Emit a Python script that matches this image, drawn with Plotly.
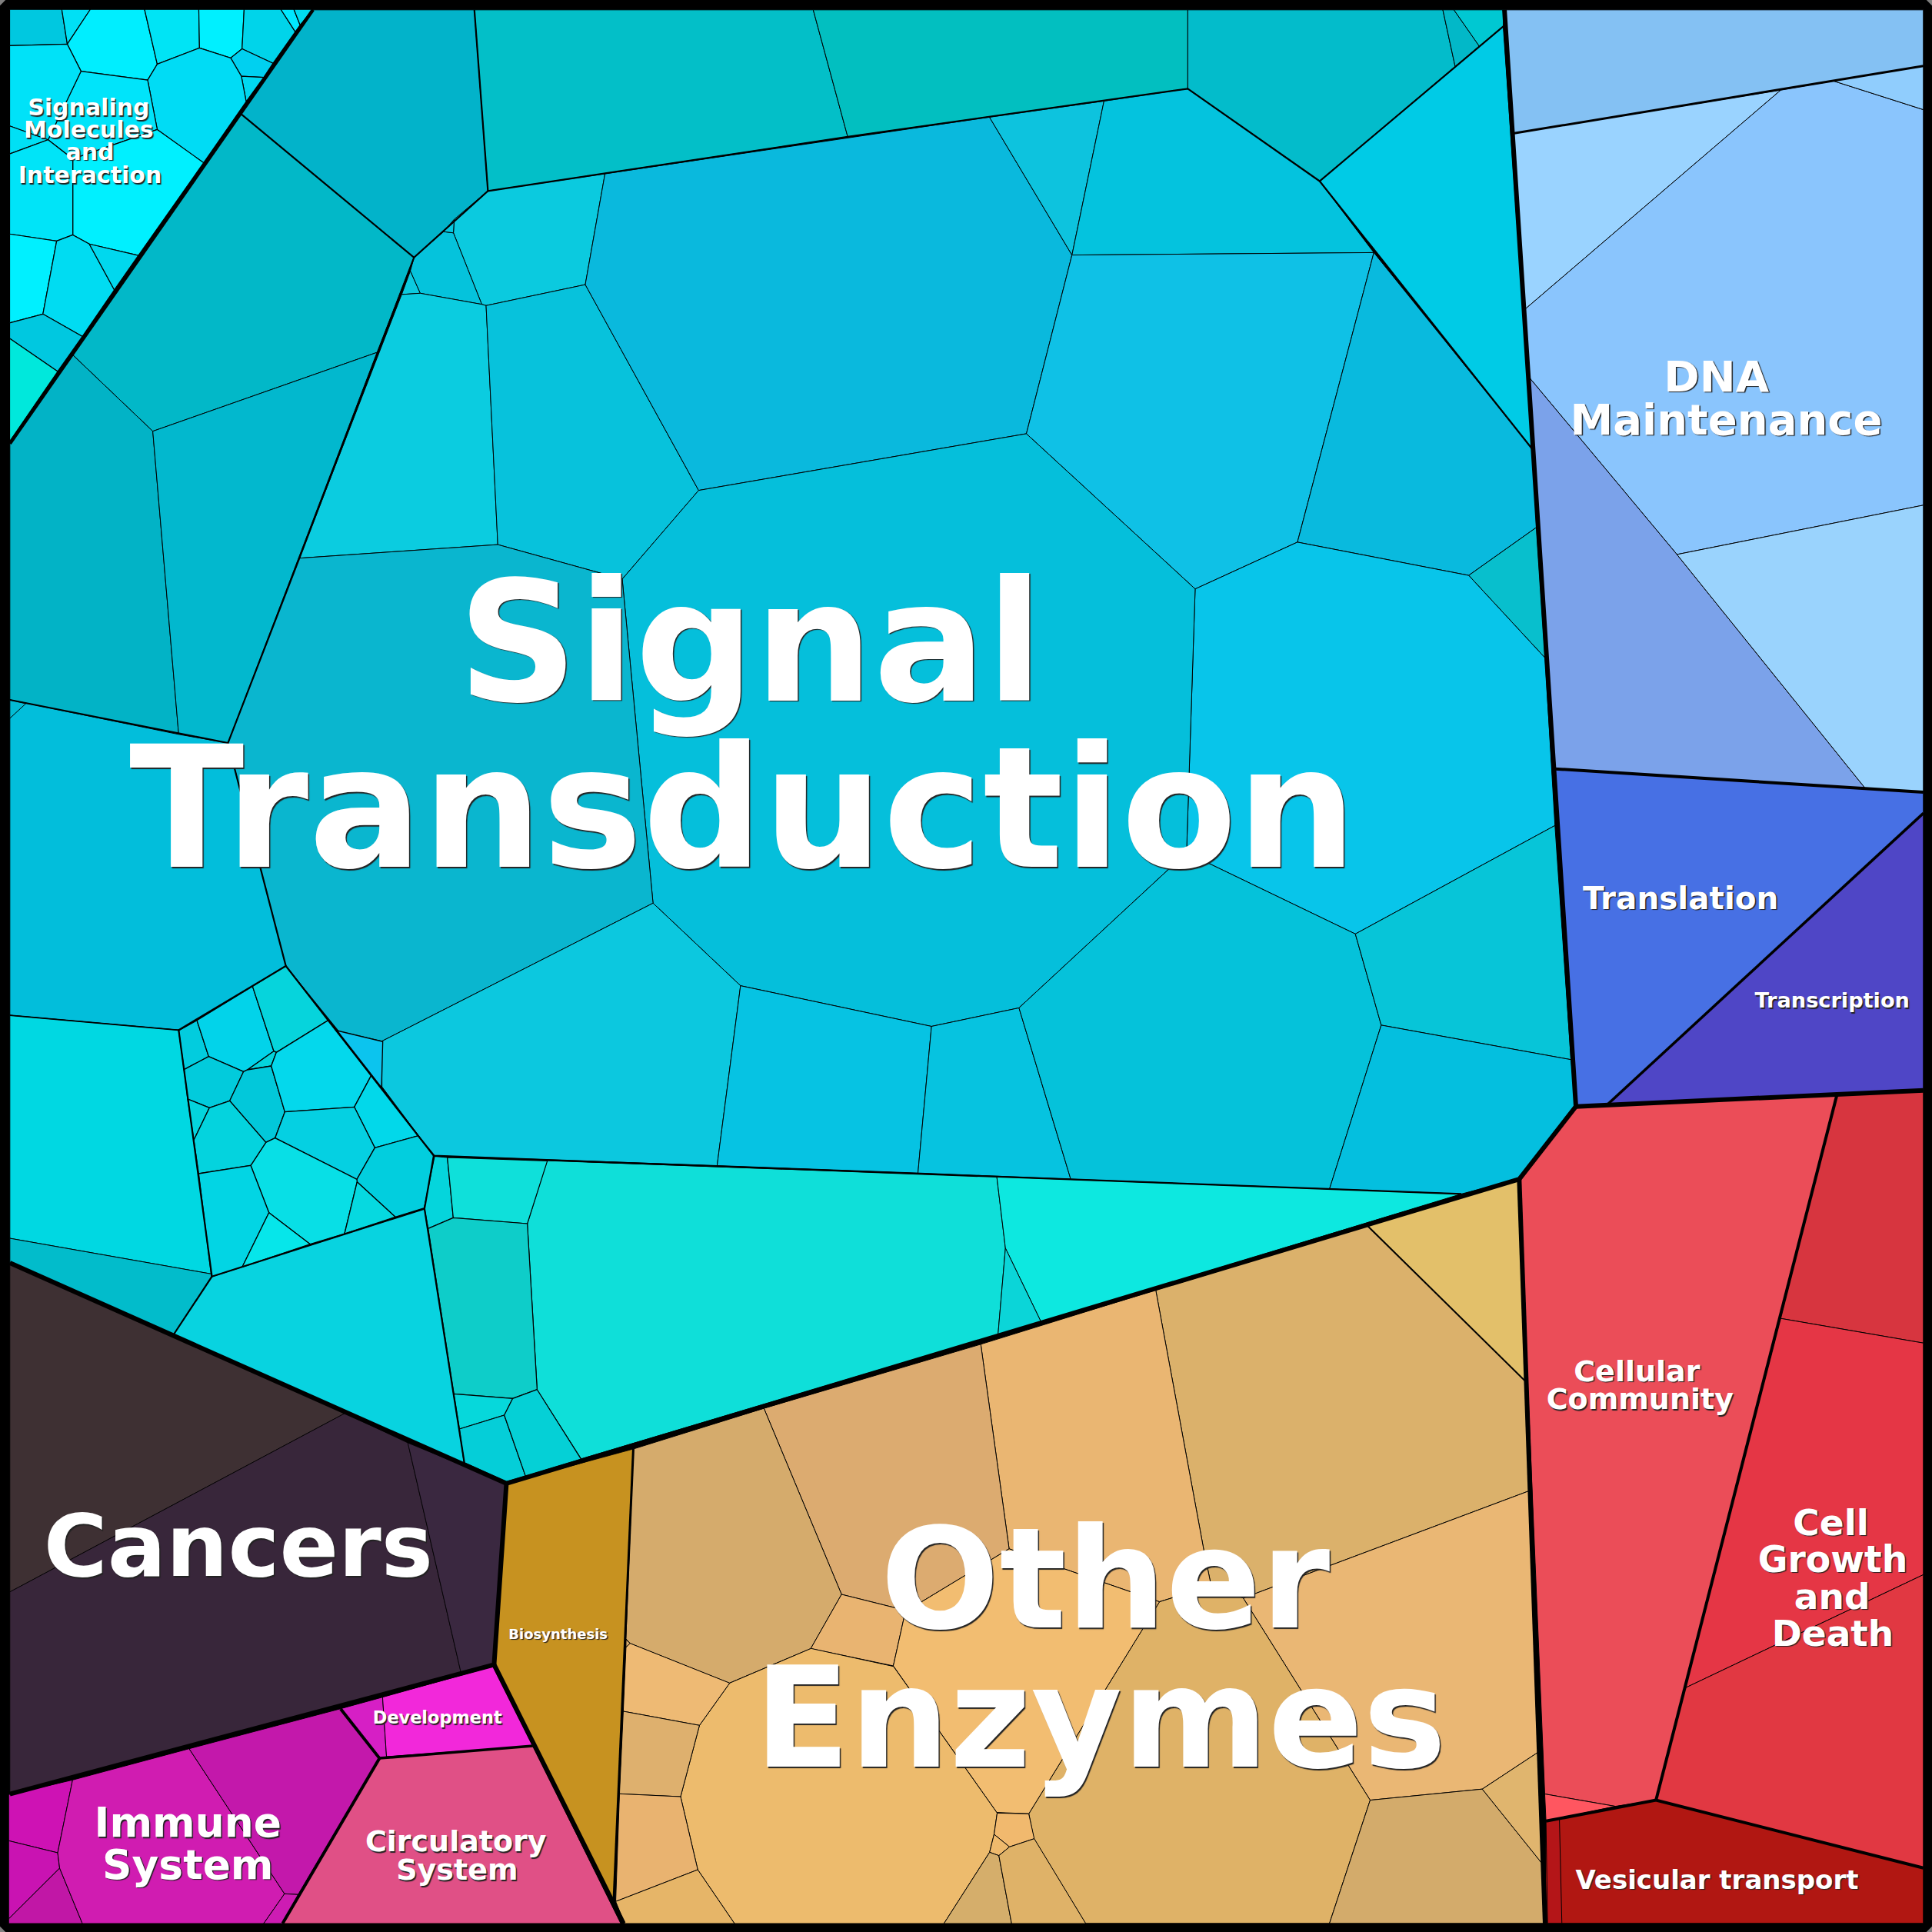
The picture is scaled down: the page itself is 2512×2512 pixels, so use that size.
import plotly.graph_objects as go

# Reading frames of the readings below: (x offset, y offset, x scale, y scale) into the 2512 px reference.
# None means the values are already in axis units (0..1568).
Z1 = (0, 0, 2.24, 2.613)
Z2 = (200, 1220, 3, 3)
Z3 = (520, 1480, 3, 3)
Z4 = (780, 2100, 2.24, 3)
Z5 = (0, 2100, 1.96, 3)

signaling_cells = [
    ("#00c8e0", [(28,32),(180,32),(196,150),(28,155)]),
    ("#00e0f5", [(180,32),(263,32),(196,150)]),
    ("#00eeff", [(263,32),(421,32),(458,218),(430,272),(236,242),(196,150)]),
    ("#00e4f5", [(421,32),(579,32),(581,163),(458,218)]),
    ("#00f0ff", [(579,32),(711,32),(705,166),(672,197),(581,163)]),
    ("#00d4ea", [(711,32),(818,32),(860,108),(795,215),(705,166)]),
    ("#00e8ff", [(818,32),(856,32),(874,85),(860,108)]),
    ("#00dcf0", [(856,32),(912,32),(874,85)]),
    ("#00d0f0", [(705,166),(795,215),(768,263),(703,259),(672,197)]),
    ("#00d8f0", [(703,259),(768,263),(717,345)]),
    ("#00dcf5", [(581,163),(672,197),(703,259),(717,345),(593,553),(458,440),(430,272),(458,218)]),
    ("#00e4fa", [(236,242),(430,272),(458,440),(212,540),(140,475)]),
    ("#00f0ff", [(458,440),(593,553),(403,868),(260,829),(212,798),(212,540)]),
    ("#00e2f8", [(28,155),(196,150),(236,242),(140,475),(28,428)]),
    ("#00e0f5", [(28,428),(140,475),(28,523)]),
    ("#00e4f8", [(28,523),(140,475),(212,540),(212,798),(165,819),(28,795)]),
    ("#00f0ff", [(28,795),(165,819),(125,1067),(28,1097)]),
    ("#00dcf2", [(165,819),(212,798),(260,829),(333,985),(240,1143),(125,1067)]),
    ("#00d8ee", [(260,829),(403,868),(333,985)]),
    ("#00c8e0", [(28,1097),(125,1067),(240,1143),(168,1262),(28,1150)]),
    ("#00e8dc", [(28,1150),(168,1262),(28,1500)]),
]

signal_cells = [
    ("#02b3ca", [(254,8),(385,8),(396,155),(336,209),(195,92)]),
    ("#02b8c8", [(195,92),(336,209),(306,286),(124,350),(59,288)]),
    ("#02b3c6", [(8,360),(59,288),(124,350),(145,596),(8,568)]),
    ("#02b8ce", [(124,350),(306,286),(185,603),(145,596)]),
    ("#03bfc8", [(385,8),(660,8),(688,111),(396,155)]),
    ("#02bfc0", [(660,8),(964,8),(964,72),(688,111)]),
    ("#03bccb", [(964,8),(1171,8),(1181,54),(1071,147),(964,72)]),
    ("#02b8c8", [(1171,8),(1180,8),(1200.6,37.5),(1181,54)]),
    ("#00c8d2", [(1180,8),(1221,8),(1220,21.5),(1200.6,37.5)]),
    ("#00cbe6", [(1220,21.5),(1244,365),(1071,147)]),
    ("#0bcadf", [(396,155),(491,141),(475,231),(394.5,248),(391,247),(368,189),(368.6,178)]),
    ("#05c3dc", [(336,209),(360,188),(368,189),(391,247),(341,238),(333,220)]),
    ("#05c8e0", [(360,188),(368.6,178),(368,189)]),
    ("#0ccadf", [(333,220),(341,238),(326,239)]),
    ("#0bcce0", [(326,239),(341,238),(391,247),(394.5,248),(404,442),(243,453)]),
    ("#07c2dc", [(394.5,248),(475,231),(567,398),(505,470),(404,442)]),
    ("#0ab9dd", [(491,141),(803,95),(870,207),(833,352),(567,398),(475,231)]),
    ("#0dc3de", [(803,95),(896,82),(870,207)]),
    ("#04c3de", [(896,82),(964,72),(1071,147),(1115,205),(870,207)]),
    ("#0fc1e6", [(870,207),(1115,205),(1053,440),(970,478),(833,352)]),
    ("#09bade", [(1115,205),(1244,365),(1247,428),(1192,467),(1053,440)]),
    ("#08bfcd", [(1247,428),(1254,534),(1192,467)]),
    ("#08c5ea", [(970,478),(1053,440),(1192,467),(1254,534),(1262,670),(1100,758),(963,692)]),
    ("#05bfdb", [(567,398),(833,352),(970,478),(963,692),(827,818),(756,833),(601,800),(530,733),(505,470)]),
    ("#0ab6cf", [(243,453),(404,442),(505,470),(530,733),(310,845),(275,837),(232,784),(185,603)]),
    ("#02bedb", [(8,568),(145,596),(185,603),(232,784),(145,836),(8,824)]),
    ("#03bcd4", [(8,568),(21,571),(8,583)]),
    ("#00d8e2", [(8,824),(145,836),(172,1034),(8,1005)]),
    ("#02bccb", [(8,1005),(172,1034),(172,1036),(141,1083),(8,1025)]),
    ("#08d3e0", [(172,1036),(344.5,981),(377,1188),(141,1083)]),
    ("#0cc8df", [(310,845),(530,733),(601,800),(582,946),(352,938),(310,882)]),
    ("#06c3e3", [(601,800),(756,833),(745,952),(582,946)]),
    ("#06c3e0", [(756,833),(827,818),(869,957),(745,952)]),
    ("#05c2da", [(827,818),(963,692),(1100,758),(1121,832),(1079,965),(869,957)]),
    ("#07c5d8", [(1100,758),(1262,670),(1275,860),(1121,832)]),
    ("#04bfdf", [(1121,832),(1275,860),(1279,898),(1233,957),(1186,969),(1079,965)]),
    ("#0fdfd9", [(444,942),(809,955),(816,1013),(810,1083),(471.7,1184),(436,1128),(428,993)]),
    ("#0de8e0", [(809,955),(1186,969),(845,1073),(816,1013)]),
    ("#0bd5d8", [(816,1013),(845,1073),(810,1083)]),
]

cluster_cells = [
    ("#02ccde", [(97,360),(168,320),(214,461),(118,512)]),
    ("#02d3ea", [(168,320),(385,187),(468,440),(365,513),(350,520),(214,461)]),
    ("#06d4dc", [(385,187),(515,107),(680,320),(478,445),(468,440)]),
    ("#04d4dc", [(468,440),(478,445),(458,498),(365,513)]),
    ("#02cbdc", [(118,512),(214,461),(350,520),(296,634),(217,661),(132,627)]),
    ("#04d4dc", [(132,627),(217,661),(156,787)]),
    ("#02c8da", [(350,520),(365,513),(458,498),(511,677),(473,779),(437,796),(296,634)]),
    ("#04d8ec", [(478,445),(680,320),(848,535),(782,658),(511,677),(458,498)]),
    ("#02d8ea", [(848,535),(1032,770),(862,817),(782,658)]),
    ("#05d0e2", [(511,677),(782,658),(862,817),(792,940),(473,779)]),
    ("#02cede", [(862,817),(1032,770),(1097,850),(1055,1052),(942,1087),(793,950),(792,940)]),
    ("#08dfe6", [(473,779),(792,940),(793,950),(744,1152),(610,1193),(449,1070),(378,886),(437,796)]),
    ("#06d9e0", [(793,950),(942,1087),(744,1152)]),
    ("#04d3de", [(217,661),(296,634),(437,796),(378,886),(175,918),(156,787)]),
    ("#02d5e4", [(175,918),(378,886),(449,1070),(345,1282),(225,1320)]),
    ("#06e6ea", [(449,1070),(610,1193),(345,1282)]),
    ("#0cc4ee", [(715,360),(893,403),(888,582)]),
]

lower_teal_cells = [
    ("#05d5dc", [(135,70),(185,75),(208,310),(110,352),(95,270)]),
    ("#0fe0da", [(185,75),(575,88),(497,333),(208,310)]),
    ("#0ecdc9", [(110,352),(208,310),(497,333),(535,980),(440,1015),(210,997)]),
    ("#06d8db", [(210,997),(440,1015),(407,1080),(232,1134)]),
    ("#05ced8", [(232,1134),(407,1080),(490,1318),(415,1340),(250,1265)]),
    ("#05d0d6", [(407,1080),(440,1015),(535,980),(707,1252),(490,1318)]),
]

enzyme_cells = [
    ("#e3c06a", [(1110,995),(1233,957),(1239,1122)]),
    ("#dbb16b", [(938,1047),(1110,995),(1239,1122),(1241,1210),(1009,1297),(983,1287),(977,1258)]),
    ("#eab672", [(796,1091),(938,1047),(977,1258),(983,1287),(941,1300),(863,1273),(819,1257)]),
    ("#dcab70", [(620,1143),(796,1091),(819,1257),(748,1300),(735,1307),(683,1294)]),
    ("#d5ab6c", [(514,1176),(620,1143),(683,1294),(658,1338),(592,1366),(511.3,1333.8),(508,1330)]),
    ("#e9b471", [(683,1294),(735,1307),(725,1352),(658,1338)]),
    ("#eab774", [(1009,1297),(1241,1210),(1250,1421),(1203,1452),(1112,1461)]),
    ("#dfb267", [(941,1300),(983,1287),(1009,1297),(1112,1461),(1079,1561),(881,1561),(839,1492),(835,1472)]),
    ("#d3ab6b", [(1112,1461),(1203,1452),(1252,1513),(1254,1561),(1079,1561)]),
    ("#e0b56e", [(1203,1452),(1250,1421),(1252,1513)]),
    ("#f2bd71", [(725,1352),(735,1307),(748,1300),(819,1257),(863,1273),(941,1300),(835,1472),(809,1471)]),
]

enzyme_lower_cells = [
    ("#edbb6d", [(378,265),(615,130),(855,200),(1157,772),(1148,855),(1135,925),(1002,1203),(392,1203),(285,993),(235,708),(290,430)]),
    ("#eeba74", [(76,125),(88,110),(378,265),(290,430),(68,375)]),
    ("#d9ac6c", [(76,95),(88,110),(76,125)]),
    ("#deb06e", [(68,375),(290,430),(235,708),(57,697)]),
    ("#e9b370", [(57,697),(235,708),(285,993),(46,1117)]),
    ("#e6b568", [(46,1117),(285,993),(392,1203),(72,1203)]),
    ("#f1b96e", [(1157,772),(1249,775),(1265,872),(1193,904),(1148,855)]),
    ("#efba6d", [(1148,855),(1193,904),(1162,938),(1135,925)]),
    ("#d5ae6b", [(1135,925),(1162,938),(1199,1203),(1002,1203)]),
    ("#dfb268", [(1162,938),(1193,904),(1265,872),(1415,1203),(1199,1203)]),
]

genetic_cells = [
    ("#84c1f3", [(1221,8),(1561,8),(1561,53.5),(1227,108.5)]),
    ("#9ad3ff", [(1227,108.5),(1445.4,73),(1236.5,252)]),
    ("#8ac5fd", [(1445.4,73),(1488,65.7),(1561,89),(1561,410),(1361,450),(1240,305),(1236.5,252)]),
    ("#90cdfd", [(1488,65.7),(1561,53.5),(1561,89)]),
    ("#7ba2ea", [(1240,305),(1361,450),(1514,640),(1262,624)]),
    ("#9ad3fd", [(1361,450),(1561,410),(1561,643),(1514,640)]),
    ("#4770e4", [(1262,624),(1561,643),(1561,660),(1305,896),(1279,898)]),
    ("#4f46c6", [(1561,660),(1561,885),(1305,896)]),
]

cellular_cells = [
    ("#eb4d58", [(1233,957),(1279,898),(1491,888),(1344,1461),(1311,1466),(1253.7,1456)]),
    ("#ff5660", [(1253.7,1456),(1311,1466),(1254.7,1478)]),
    ("#d7353f", [(1491,888),(1561,885),(1561,1090),(1445,1070)]),
    ("#e53645", [(1445,1070),(1561,1090),(1561,1278),(1367.5,1370)]),
    ("#e13842", [(1367.5,1370),(1561,1278),(1561,1516),(1344,1461)]),
    ("#b11712", [(1254.7,1478),(1344,1461),(1561,1516),(1561,1561),(1254,1561)]),
    ("#b41518", [(1254.7,1478),(1265.6,1476),(1267.6,1561),(1256,1561)]),
]

cancer_cells = [
    ("#3e3033", [(8,1025),(280,1147),(8,1292)]),
    ("#38263a", [(8,1292),(280,1147),(331,1171),(374,1357),(8,1456)]),
    ("#3a2840", [(331,1171),(411,1204),(401,1351),(374,1357)]),
    ("#c79220", [(411,1204),(514,1176),(498,1545),(401,1351)]),
]

organismal_cells = [
    ("#ce12b4", [(22,700),(185,643),(147,927),(22,880)]),
    ("#c913b2", [(22,880),(147,927),(152,987),(22,1185)]),
    ("#c117a6", [(22,1185),(152,987),(210,1203),(22,1203)]),
    ("#d01cb1", [(185,643),(482,521),(725,1087),(672,1203),(210,1203),(152,987),(147,927)]),
    ("#c318ab", [(482,521),(868,365),(965,560),(760,1090),(725,1087)]),
    ("#cd1cb3", [(725,1087),(760,1090),(720,1203),(672,1203)]),
    ("#d61fc5", [(868,365),(975,320),(985,552),(968,560)]),
    ("#f228da", [(975,320),(1256,200),(1358,510),(985,552)]),
    ("#e05086", [(968,560),(1358,510),(1582,1203),(720,1203)]),
]

corner_marks = [
    [(0,0),(4.5,0),(0,4.5)], [(1568,0),(1563.5,0),(1568,4.5)],
    [(0,1568),(4.5,1568),(0,1563.5)], [(1568,1568),(1563.5,1568),(1568,1563.5)],
]

# (cells, reading frame, thin outline width)
CELL_SETS = [
    (signaling_cells, Z1, 1.2), (signal_cells, None, 1.0), (cluster_cells, Z2, 1.3), (lower_teal_cells, Z3, 1.2),
    (enzyme_cells, None, 1.0), (enzyme_lower_cells, Z4, 1.0), (genetic_cells, None, 1.0), (cellular_cells, None, 1.0),
    (cancer_cells, None, 0.8), (organismal_cells, Z5, 1.0),
]

# group boundaries: (width, polyline)
boundaries = [
    (6, [(1221,8),(1279,898),(1233,957),(411,1204),(8,1025)]),
    (6, [(1279,898),(1561,885)]),
    (6, [(1233,957),(1254,1561)]),
    (6, [(411,1204),(401,1351),(8,1456)]),
    (6, [(401,1351),(506,1561)]),
    (4.5, [(254,8),(8,360)]),
    (3, [(1227,108.5),(1561,53.5)]),
    (4, [(1262,624),(1561,643)]),
    (3.5, [(1561,660),(1305,896)]),
    (4, [(1491,888),(1344,1461)]),
    (4, [(1254.7,1478),(1344,1461),(1561,1516)]),
    (3, [(514,1176),(498,1545)]),
    (4, [(276.5,1387),(308,1427),(229.4,1561)]),
    (3.5, [(308,1427),(432.5,1417)]),
    (2, [(1110,995),(1239,1122)]),
    (2.2, [(385,8),(396,155),(336,209),(195,92)]),
    (2.2, [(336,209),(243,453),(185,603),(8,568)]),
    (2.2, [(396,155),(688,111),(964,72),(1071,147),(1220,21.5)]),
    (2.2, [(1071,147),(1244,365)]),
    (2.2, [(185,603),(232,784),(145,836),(172,1036),(141,1083)]),
    (1.8, [(145,836),(8,824)]),
    (2.2, [(232,784),(352,938),(1186,969)]),
    (2.2, [(172,1036),(344.5,981),(352,938)]),
    (2.2, [(344.5,981),(377,1188)]),
]

# text lines: (text, centre x, baseline y, font px)
labels = [
    ("Signal", 609, 570, 217), ("Transduction", 603, 705, 219),
    ("Other", 897, 1322, 182), ("Enzymes", 893, 1435, 182),
    ("Cancers", 193.5, 1280, 113),
    ("DNA", 1393, 318, 56), ("Maintenance", 1401, 353, 56),
    ("Translation", 1364, 738, 40.5), ("Transcription", 1487, 818, 27.2),
    ("Cellular", 1328.5, 1121, 38), ("Community", 1331, 1144, 38),
    ("Cell", 1486, 1246, 47), ("Growth", 1487.5, 1276, 47.3), ("and", 1487, 1306, 47), ("Death", 1487.5, 1336, 47),
    ("Vesicular transport", 1393.5, 1533, 34),
    ("Immune", 152.5, 1491, 53.4), ("System", 152.5, 1525, 53.4),
    ("Circulatory", 370, 1503, 38), ("System", 371, 1526, 38),
    ("Development", 355, 1399, 22.4), ("Biosynthesis", 453, 1330, 18),
    ("Signaling", 72, 94, 30), ("Molecules", 72, 112, 30), ("and", 73, 130, 30), ("Interaction", 73, 149, 30),
]

K = 2512 / 1568


def to_axis(ring, frame):
    if frame is None:
        return ring
    x0, y0, sx, sy = frame
    return [((x0 + x / sx) / K, (y0 + y / sy) / K) for x, y in ring]


fig = go.Figure()
for cells, frame, thin in CELL_SETS:
    for colour, ring in cells:
        pts = to_axis(ring, frame)
        xs = [p[0] for p in pts] + [pts[0][0]]
        ys = [p[1] for p in pts] + [pts[0][1]]
        fig.add_trace(go.Scatter(x=xs, y=ys, mode="lines", fill="toself", fillcolor=colour,
                                 line=dict(color="#000000", width=thin), hoverinfo="skip", showlegend=False))

for width, line in boundaries:
    fig.add_trace(go.Scatter(x=[p[0] for p in line], y=[p[1] for p in line], mode="lines",
                             line=dict(color="#000000", width=width), hoverinfo="skip", showlegend=False))

for ring in corner_marks:
    fig.add_trace(go.Scatter(x=[p[0] for p in ring] + [ring[0][0]], y=[p[1] for p in ring] + [ring[0][1]],
                             mode="lines", fill="toself", fillcolor="#808080", line=dict(width=0),
                             hoverinfo="skip", showlegend=False))

for text, x, base, size in labels:
    fig.add_trace(go.Scatter(x=[x], y=[base - 0.26 * size / K], mode="text", text=[text],
                             textposition="middle center",
                             textfont=dict(family="DejaVu Sans", size=size, color="#ffffff", weight="bold",
                                           shadow="1.5px 1.5px 1px #222222"),
                             hoverinfo="skip", showlegend=False))

fig.update_layout(width=2512, height=2512, margin=dict(l=0, r=0, t=0, b=0),
                  paper_bgcolor="#000000", plot_bgcolor="#000000",
                  xaxis=dict(range=[0, 1568], visible=False, fixedrange=True),
                  yaxis=dict(range=[1568, 0], visible=False, fixedrange=True))
fig.write_html("out.html", config={"displayModeBar": False},
               post_script="document.body.style.margin='0';document.body.style.overflow='hidden';")
